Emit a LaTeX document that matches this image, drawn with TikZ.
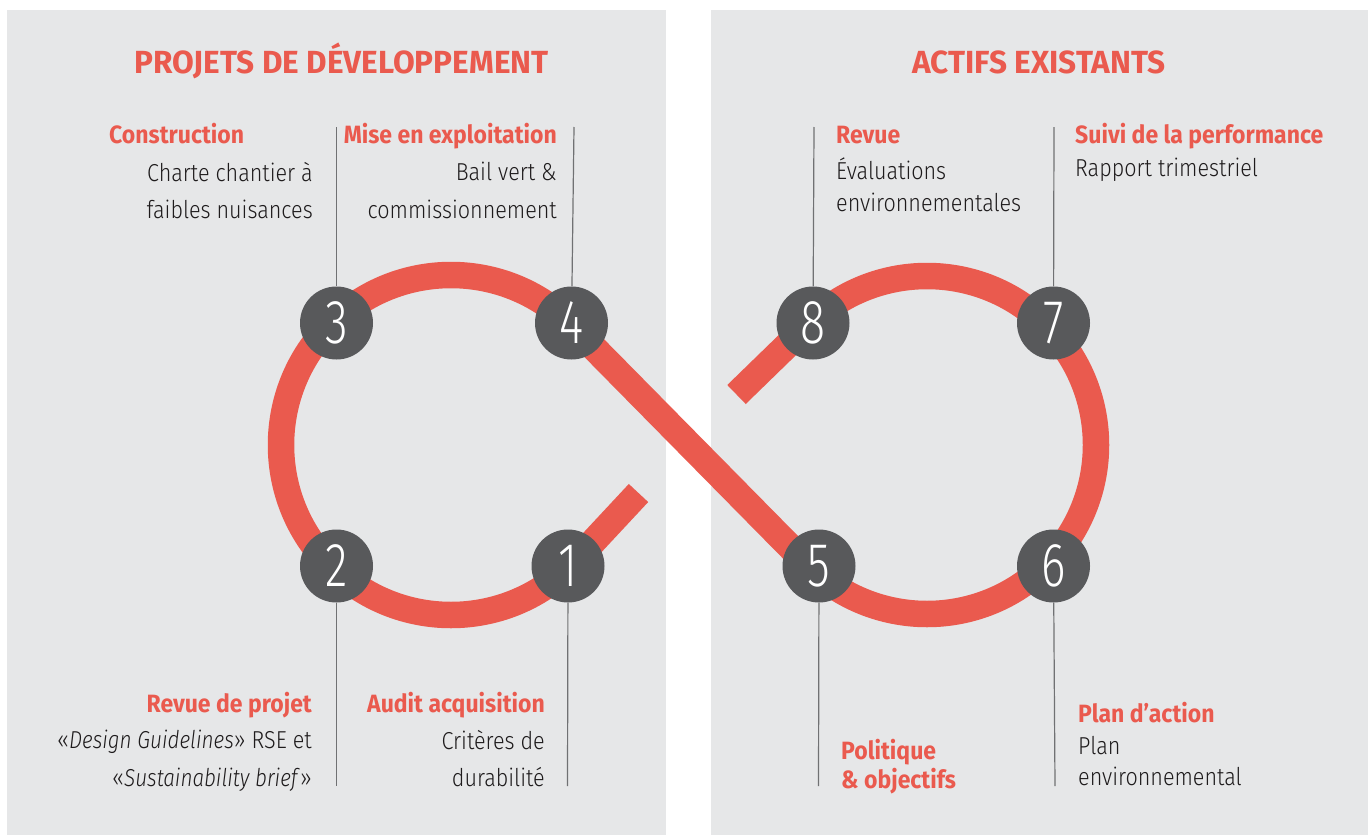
\documentclass[tikz,border=0pt]{standalone}
\usepackage{fontspec}
\setmainfont{Fira Sans}[UprightFont=* Light, ItalicFont=* Light Italic, FakeStretch=0.88,
  ItalicFeatures={FakeStretch=0.845}]
\newfontfamily\headfont{Fira Sans}[UprightFont=* Bold, FakeStretch=0.92]
\newfontfamily\titlefont{Fira Sans}[UprightFont=* Bold, FakeStretch=0.985]
\newfontfamily\digitfont{Fira Sans}[UprightFont=* Light, FakeStretch=0.75]

\definecolor{bandred}{RGB}{234,90,78}
\definecolor{panelgray}{RGB}{230,231,232}
\definecolor{dotgray}{RGB}{88,89,91}
\definecolor{leadgray}{RGB}{112,113,115}
\definecolor{textdark}{RGB}{30,27,28}

\begin{document}
\begin{tikzpicture}[x=1pt, y=-1pt]

% Styles
\tikzset{
  panel/.style={fill=panelgray},
  band/.style={line width=26.5pt, draw=bandred},
  dot/.style={circle, fill=dotgray, minimum size=73pt, inner sep=0pt, text=white,
    font=\digitfont\fontsize{62}{62}\selectfont},
  leader/.style={line width=1.2pt, draw=leadgray},
  title/.style={text=bandred, inner sep=0pt, font=\titlefont\fontsize{32}{32}\selectfont},
  head/.style={text=bandred, inner sep=0pt, font=\headfont\fontsize{25}{29}\selectfont},
  body/.style={text=textdark, inner sep=0pt, font=\fontsize{24.5}{37.5}\selectfont},
  bodytight/.style={body, font=\fontsize{24.5}{31.5}\selectfont}
}

\useasboundingbox (0,0) rectangle (1368,835);

% Panels
\fill[panel] (7,10) rectangle (666,835);
\fill[panel] (711,10) rectangle (1368,835);

\node[title, anchor=base] (devtitle) at (341.5,73) {PROJETS DE DÉVELOPPEMENT};
\node[title, anchor=base] (assettitle) at (1039,73) {ACTIFS EXISTANTS};

% Loop centres and loose ends
\coordinate (L) at (451,445);
\coordinate (R) at (927,445);
\coordinate (e1) at (638.5,493);   % end after step 1
\coordinate (e8) at (736.5,394.5); % end before step 8

% Band
\draw[band] (e8) -- ([shift={(225:169)}]R) arc (225:495:169)
  -- ([shift={(-45:170)}]L) arc (-45:-315:170) -- (e1);

% Steps
\node[dot] (c1) at (568,566) {1};
\node[dot] (c2) at (336.5,566) {2};
\node[dot] (c3) at (336.5,323) {3};
\node[dot] (c4) at (571.5,323) {4};
\node[dot] (c5) at (819,566) {5};
\node[dot] (c6) at (1053.5,566) {6};
\node[dot] (c7) at (1053.5,323) {7};
\node[dot] (c8) at (813,323) {8};

% Leader ends
\coordinate (t3) at (336.5,127);
\coordinate (t4) at (574,127);
\coordinate (t8) at (814,127);
\coordinate (t7) at (1054,127);
\coordinate (b2) at (336.5,786);
\coordinate (b1) at (567.5,786);
\coordinate (b5) at (818.5,786);
\coordinate (b6) at (1055,786);

\draw[leader] (c3) -- (t3);
\draw[leader] (c4) -- (t4);
\draw[leader] (c8) -- (t8);
\draw[leader] (c7) -- (t7);
\draw[leader] (c2) -- (b2);
\draw[leader] (c1) -- (b1);
\draw[leader] (c5) -- (b5);
\draw[leader] (c6) -- (b6);

% Labels, top left
\node[head, anchor=base west] (h3) at (109,143.5) {Construction};
\node[body, align=right, anchor=north east] (d3) at (313,162) {Charte chantier à\\faibles nuisances};
\node[head, anchor=base east] (h4) at (557,143.5) {Mise en exploitation};
\node[body, align=right, anchor=north east] (d4) at (557,162) {Bail vert \&\\commissionnement};

% Labels, bottom left
\node[head, anchor=base east] (h2) at (312,712) {Revue de projet};
\node[body, align=right, anchor=north east] (d2) at (312,730)
  {«\emph{Design Guidelines}» RSE et\\«\emph{Sustainability brief}»};
\node[head, anchor=base east] (h1) at (545,712) {Audit acquisition};
\node[body, align=right, anchor=north east] (d1) at (545,730) {Critères de\\durabilité};

% Labels, top right
\node[head, anchor=base west] (h8) at (836,143.5) {Revue};
\node[bodytight, align=left, anchor=north west] (d8) at (836,158) {Évaluations\\environnementales};
\node[head, anchor=base west] (h7) at (1075,143.5) {Suivi de la performance};
\node[bodytight, align=left, anchor=north west] (d7) at (1075,158) {Rapport trimestriel};

% Labels, bottom right
\node[head, align=left, anchor=north west] (h5) at (841,739) {Politique\\\& objectifs};
\node[head, anchor=base west] (h6) at (1078,722) {Plan d’action};
\node[bodytight, align=left, anchor=north west] (d6) at (1078,736) {Plan\\environnemental};

\end{tikzpicture}
\end{document}
